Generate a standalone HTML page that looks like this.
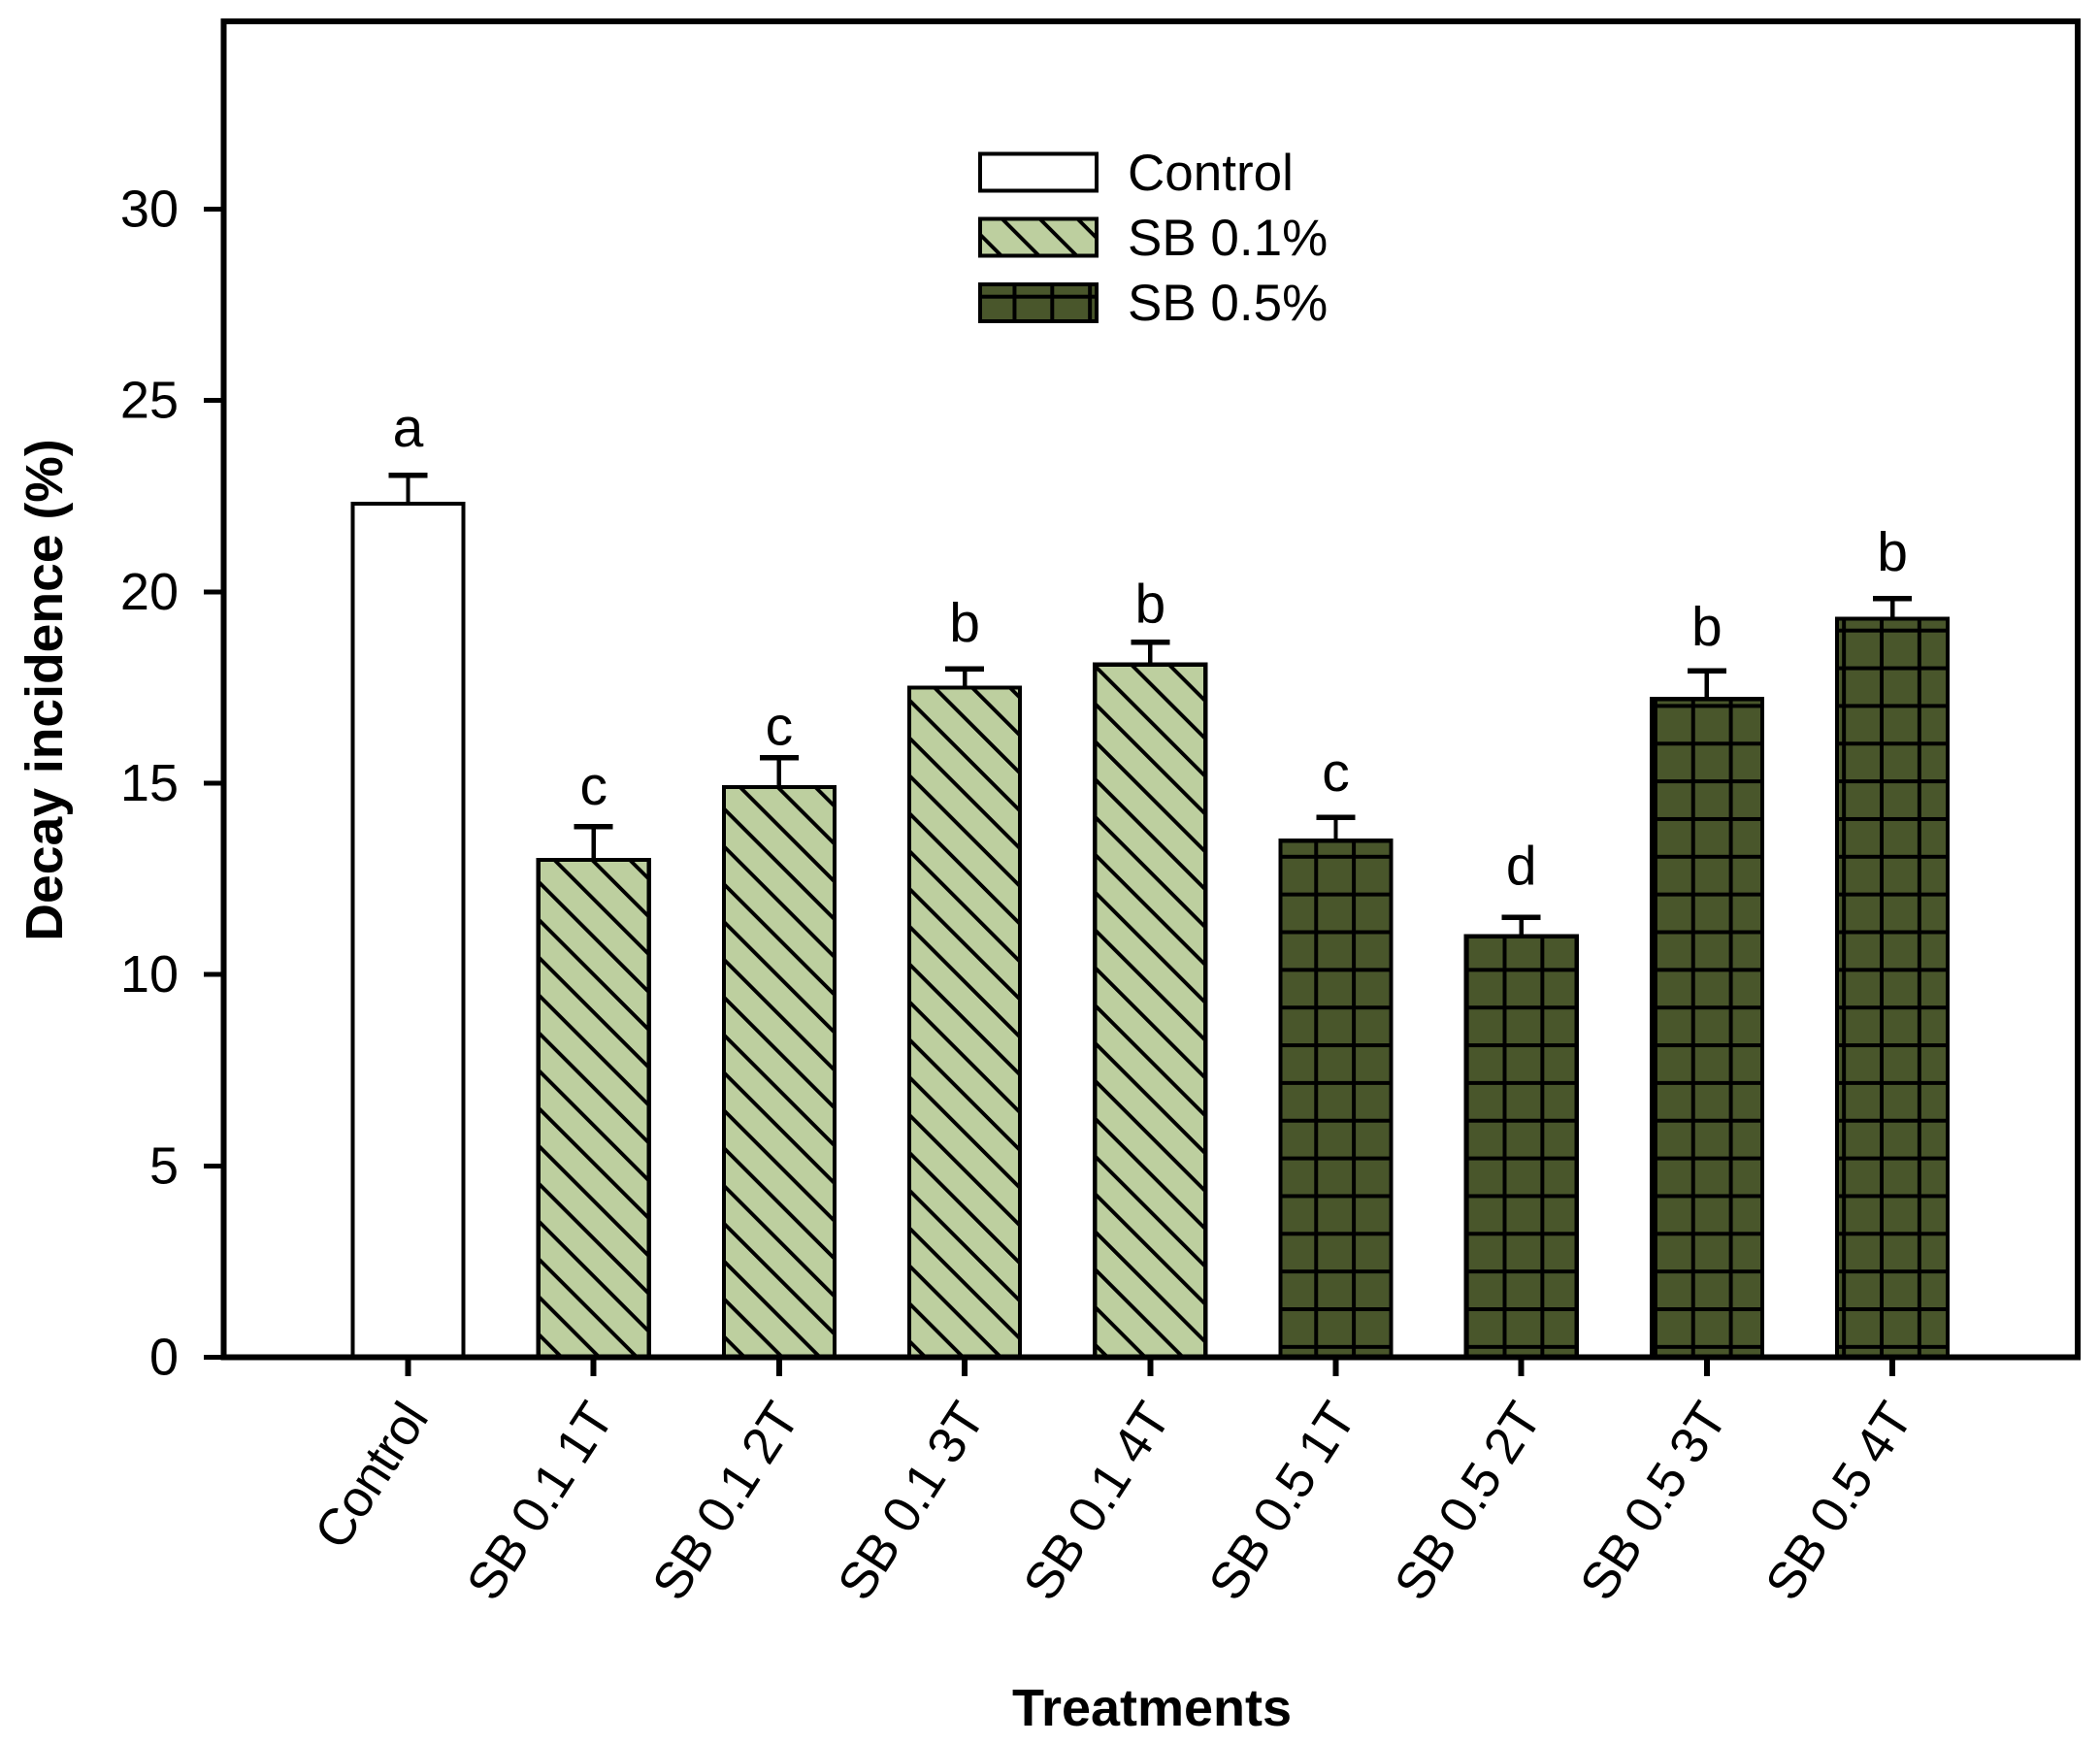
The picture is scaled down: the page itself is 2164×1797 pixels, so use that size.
<!DOCTYPE html>
<html lang="en">
<head>
<meta charset="utf-8">
<title>Decay incidence chart</title>
<style>
html,body{margin:0;padding:0;background:#fff;}
svg{display:block;}
text{font-family:"Liberation Sans",Arial,sans-serif;fill:#000;}
</style>
</head>
<body>
<svg id="chart" xmlns="http://www.w3.org/2000/svg" width="2164" height="1797" viewBox="0 0 2164 1797" shape-rendering="crispEdges">
  <defs>
    <pattern id="hatch-1" patternUnits="userSpaceOnUse" width="38.85" height="38.85" patternTransform="translate(-353.6,0)">
      <rect width="38.85" height="38.85" fill="#BDCF9F"/>
      <path d="M-5,-5L43.85,43.85M-5,33.85L5,43.85M33.85,-5L43.85,5" stroke="#000" stroke-width="3.8" fill="none"/>
    </pattern>
    <pattern id="hatch-2" patternUnits="userSpaceOnUse" width="38.85" height="38.85" patternTransform="translate(-87.3,0)">
      <rect width="38.85" height="38.85" fill="#BDCF9F"/>
      <path d="M-5,-5L43.85,43.85M-5,33.85L5,43.85M33.85,-5L43.85,5" stroke="#000" stroke-width="3.8" fill="none"/>
    </pattern>
    <pattern id="hatch-3" patternUnits="userSpaceOnUse" width="38.85" height="38.85" patternTransform="translate(215.6,0)">
      <rect width="38.85" height="38.85" fill="#BDCF9F"/>
      <path d="M-5,-5L43.85,43.85M-5,33.85L5,43.85M33.85,-5L43.85,5" stroke="#000" stroke-width="3.8" fill="none"/>
    </pattern>
    <pattern id="hatch-4" patternUnits="userSpaceOnUse" width="38.85" height="38.85" patternTransform="translate(403.3,0)">
      <rect width="38.85" height="38.85" fill="#BDCF9F"/>
      <path d="M-5,-5L43.85,43.85M-5,33.85L5,43.85M33.85,-5L43.85,5" stroke="#000" stroke-width="3.8" fill="none"/>
    </pattern>
    <pattern id="hatch-legend" patternUnits="userSpaceOnUse" width="38.85" height="38.85" patternTransform="translate(768.3,0)">
      <rect width="38.85" height="38.85" fill="#BDCF9F"/>
      <path d="M-5,-5L43.85,43.85M-5,33.85L5,43.85M33.85,-5L43.85,5" stroke="#000" stroke-width="3.8" fill="none"/>
    </pattern>
    <pattern id="grid-bars" patternUnits="userSpaceOnUse" width="38.85" height="38.85" patternTransform="translate(15.925,8.675)">
      <rect width="38.85" height="38.85" fill="#49562B"/>
      <path d="M19.425,0V38.85M0,19.425H38.85" stroke="#000" stroke-width="4" fill="none"/>
    </pattern>
    <pattern id="grid-legend" patternUnits="userSpaceOnUse" width="38.85" height="38.85" patternTransform="translate(15.925,14.325)">
      <rect width="38.85" height="38.85" fill="#49562B"/>
      <path d="M19.425,0V38.85M0,19.425H38.85" stroke="#000" stroke-width="4" fill="none"/>
    </pattern>
  </defs>

  <rect x="0" y="0" width="2164" height="1797" fill="#fff"/>
  <g id="bars"></g>
  <g id="y-axis"></g>
  <g id="x-axis"></g>
  <rect x="230.5" y="22" width="1910.5" height="1376.6" fill="none" stroke="#000" stroke-width="6"/>

  <text transform="translate(64,711) rotate(-90)" text-anchor="middle" font-size="53.5" font-weight="700">Decay incidence (%)</text>
  <text x="1187" y="1778" text-anchor="middle" font-size="54" font-weight="700">Treatments</text>

  <g>
    <g>
      <rect x="1010" y="158.5" width="120" height="38" fill="#fff" stroke="#000" stroke-width="4"/>
      <text x="1162" y="196" font-size="53">Control</text>
    </g>
    <g>
      <rect x="1010" y="225.5" width="120" height="38" fill="url(#hatch-legend)" stroke="#000" stroke-width="4"/>
      <text x="1162" y="263" font-size="53">SB 0.1%</text>
    </g>
    <g>
      <rect x="1010" y="293" width="120" height="38" fill="url(#grid-legend)" stroke="#000" stroke-width="4"/>
      <text x="1162" y="330" font-size="53">SB 0.5%</text>
    </g>
  </g>
</svg>
<script>
const categories = ["Control", "SB 0.1 1T", "SB 0.1 2T", "SB 0.1 3T", "SB 0.1 4T", "SB 0.5 1T", "SB 0.5 2T", "SB 0.5 3T", "SB 0.5 4T"];
const decayValues = [22.3, 13.0, 14.9, 17.5, 18.1, 13.5, 11.0, 17.2, 19.3];
const errorValues = [0.75, 0.87, 0.76, 0.49, 0.58, 0.60, 0.50, 0.73, 0.53];
const significanceLetters = ["a", "c", "c", "b", "b", "c", "d", "b", "b"];
const letterLevels = [23.8, 14.44, 16.0, 18.7, 19.2, 14.8, 12.35, 18.6, 20.55];
const yTickLabels = [0, 5, 10, 15, 20, 25, 30];
const barFills = ["#fff", "url(#hatch-1)", "url(#hatch-2)", "url(#hatch-3)", "url(#hatch-4)", "url(#grid-bars)", "url(#grid-bars)", "url(#grid-bars)", "url(#grid-bars)"];

const SVG_NS = "http://www.w3.org/2000/svg";
function xScale(i) { return 420.5 + 191.2 * i; }
function yScale(v) { return 1398.6 - 39.44 * v; }
function make(tag, parent, attrs) {
  const el = document.createElementNS(SVG_NS, tag);
  for (const k in attrs) el.setAttribute(k, attrs[k]);
  parent.appendChild(el);
  return el;
}

const barsGroup = document.getElementById("bars");
const yAxis = document.getElementById("y-axis");
const xAxis = document.getElementById("x-axis");

categories.forEach(function (cat, i) {
  const cx = xScale(i);
  const top = yScale(decayValues[i]);
  const errTop = yScale(decayValues[i] + errorValues[i]);

  const stem = make("line", barsGroup, { x1: cx, x2: cx, y1: errTop, y2: top, stroke: "#000", "stroke-width": 4.4 });
  
  

  const cap = make("line", barsGroup, { x1: cx - 20, x2: cx + 20, y1: errTop, y2: errTop, stroke: "#000", "stroke-width": 5.5 });
  
  

  const bar = make("rect", barsGroup, { x: cx - 57, y: top, width: 114, height: yScale(0) - top, fill: barFills[i], stroke: "#000", "stroke-width": 4.2 });
  
  

  const letter = make("text", barsGroup, { x: cx, y: yScale(letterLevels[i]), "text-anchor": "middle", "font-size": 57 });
  letter.textContent = significanceLetters[i];
  
  

  const tick = make("line", xAxis, { x1: cx, x2: cx, y1: yScale(0), y2: 1418, stroke: "#000", "stroke-width": 6 });
  
  

  const label = make("text", xAxis, { transform: "translate(" + (cx + 22) + ",1461) rotate(-57)", "text-anchor": "end", "font-size": 53, "letter-spacing": -0.8 });
  label.textContent = cat;
  
  
});

yTickLabels.forEach(function (v) {
  const y = yScale(v);
  const tick = make("line", yAxis, { x1: 210, x2: 230, y1: y, y2: y, stroke: "#000", "stroke-width": 5 });
  
  

  const label = make("text", yAxis, { x: 184, y: y + 18, "text-anchor": "end", "font-size": 54 });
  label.textContent = String(v);
  
  
});
</script>
</body>
</html>
